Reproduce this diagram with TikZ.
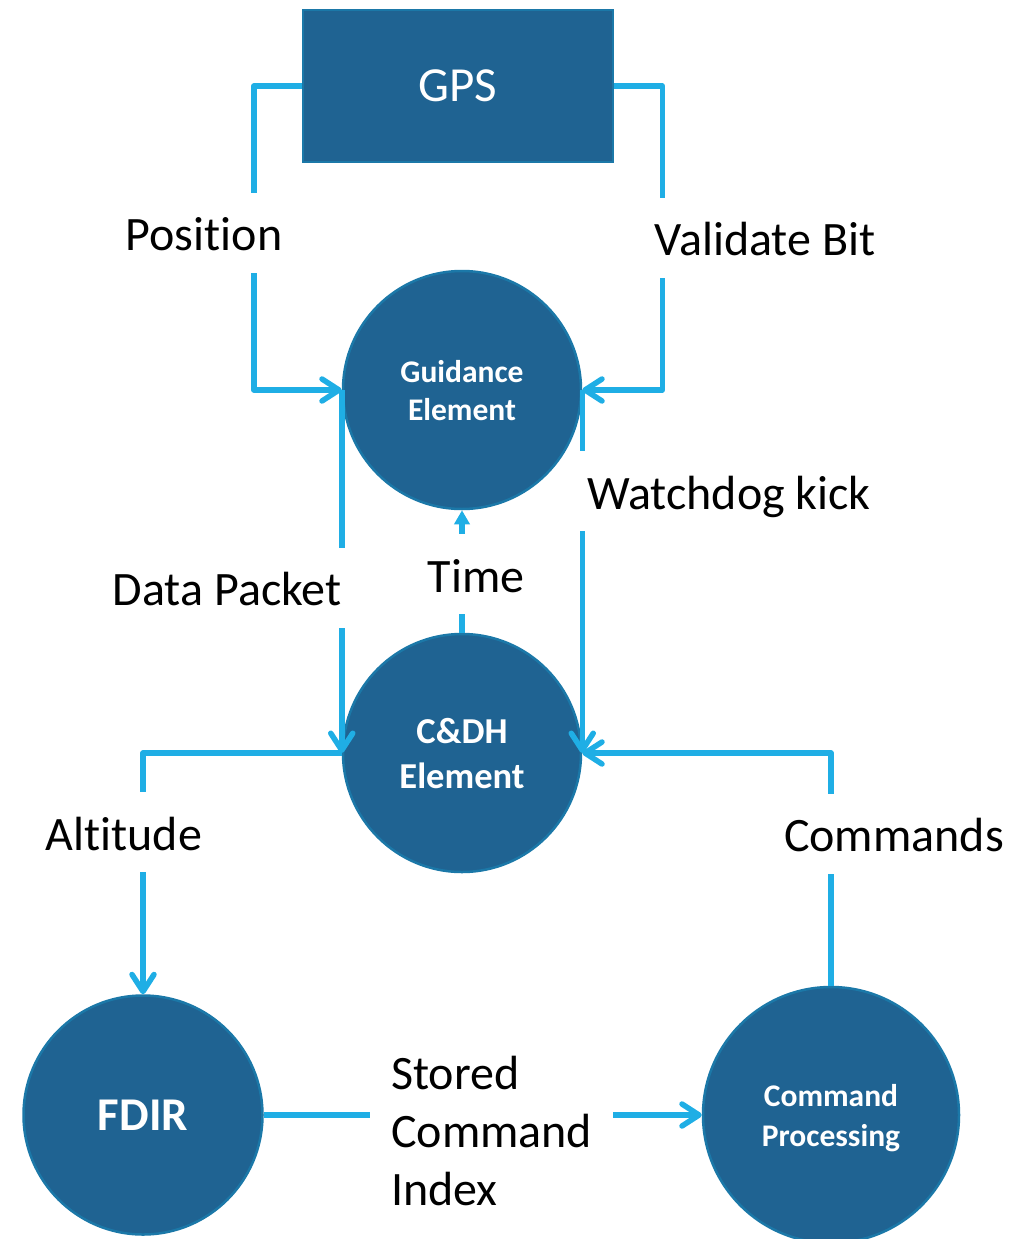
\documentclass[tikz,border=0pt]{standalone}
\usepackage{fontspec}
\setmainfont{Carlito}[Ligatures=NoCommon]
\usetikzlibrary{arrows.meta}
\definecolor{nodefill}{HTML}{1F6392}
\definecolor{nodeline}{HTML}{1B78A8}
\definecolor{flowc}{HTML}{1FAEE5}
\begin{document}
\begin{tikzpicture}[x=1pt,y=-1pt,
 proc/.style={circle, fill=nodefill, draw=nodeline, line width=2.5pt, text=white, align=center, inner sep=0pt},
 flow/.style={draw=flowc, line width=5.5pt, line join=round},
 barb/.style={-{Straight Barb[length=17pt,width=22pt,line cap=round,line join=round]}},
 tri/.style={-{Triangle[length=14pt,width=15pt]}},
 lbl/.style={fill=white, text=black, font=\fontsize{48}{58}\selectfont, text height=42pt, text depth=6pt, inner ysep=16pt, inner xsep=12pt},
]
\useasboundingbox (0,0) rectangle (1030,1239);
% nodes
\node[rectangle, fill=nodefill, draw=nodeline, line width=2.5pt, minimum width=310pt, minimum height=152pt, text=white, font=\fontsize{49}{58}\selectfont, inner sep=0pt] (gps) at (458,86) {GPS};
\node[proc, minimum size=238pt, text depth=-4pt, font=\bfseries\fontsize{31.5}{38}\selectfont] (guid) at (462,390) {Guidance\\Element};
\node[proc, minimum size=238pt, text depth=-6pt, font=\bfseries\fontsize{36.5}{45}\selectfont] (cdh) at (462,753) {C\&DH\\Element};
\node[proc, minimum size=239pt, font=\bfseries\fontsize{47}{56}\selectfont] (fdir) at (143,1115) {FDIR};
\node[proc, minimum size=256pt, text depth=-4pt, font=\bfseries\fontsize{31.5}{40}\selectfont] (cp) at (831,1115) {Command\\Processing};
% connectors
\draw[flow,barb] (gps.west) -- ++(-48,0) |- (guid.west);
\draw[flow,barb] (gps.east) -- ++(48,0) |- (guid.east);
\draw[flow,barb] (guid.west) -- (cdh.west);
\draw[flow,barb] (guid.east) -- (cdh.east);
\draw[flow,tri] (cdh.north) -- (guid.south);
\draw[flow,barb] (cdh.west) -| (fdir.north);
\draw[flow,barb] (cp.north) |- (cdh.east);
\draw[flow,barb] (fdir.east) -- (cp.west);
% labels
\node[lbl] (lpos) at (204,232.5) {Position};
\node[lbl] (lval) at (765,237.5) {Validate Bit};
\node[lbl] (lwd) at (729,491) {Watchdog kick};
\node[lbl] (ldp) at (227,587.5) {Data Packet};
\node[lbl] (ltime) at (476,574) {Time};
\node[lbl] (lalt) at (124,832) {Altitude};
\node[lbl] (lcmd) at (894,833.5) {Commands};
\node[anchor=west, fill=white, text=black, align=left, inner xsep=21pt, inner ysep=4pt, font=\fontsize{48}{58}\selectfont] (lsci) at (370,1131) {Stored\\Command\\Index};
\end{tikzpicture}
\end{document}
